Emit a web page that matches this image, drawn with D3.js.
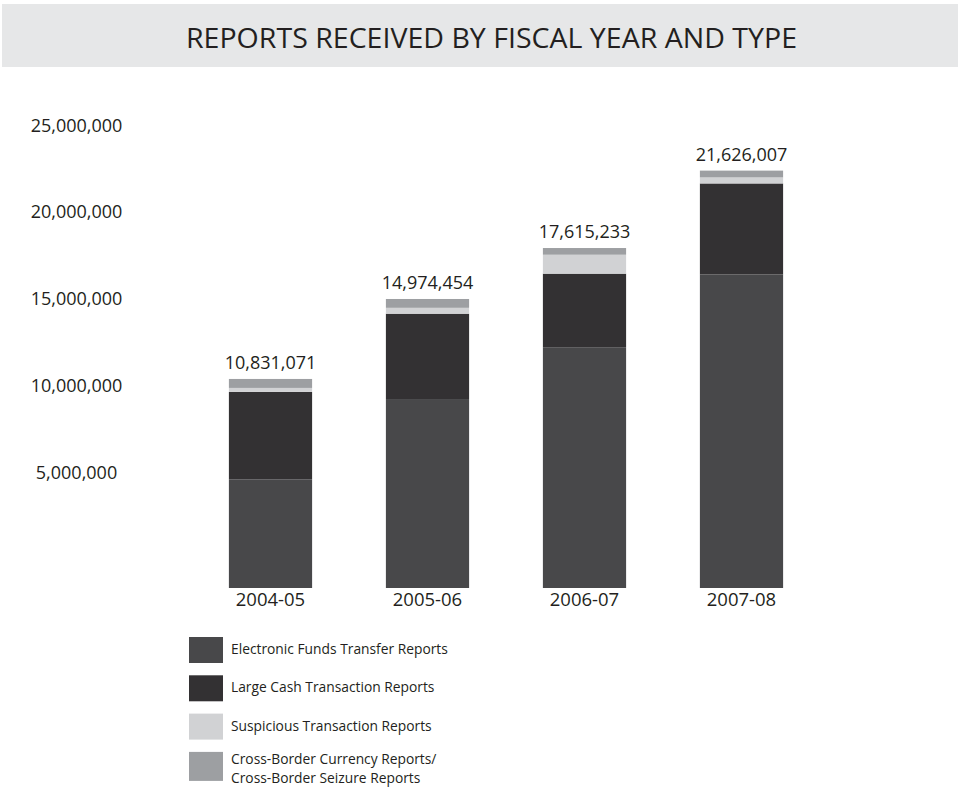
<!DOCTYPE html>
<html>
<head>
<meta charset="utf-8">
<script src="https://cdn.jsdelivr.net/npm/d3@7"></script>
<style>
  body { margin: 0; background: #fff; }
  text { font-family: "Open Sans", "DejaVu Sans", sans-serif; fill: #231f20; }
</style>
</head>
<body>
<div id="chart"></div>
<script>
// --- data ---
const years = ["2004-05", "2005-06", "2006-07", "2007-08"];
const totals = [10831071, 14974454, 17615233, 21626007];
const eftr = [5630000, 9791000, 12476000, 16245000];
const lctr = [4530000, 4421000, 3810000, 4716000];
const str = [207000, 305000, 982000, 314000];
const cbcr = [464071, 457454, 347233, 351007];
const seriesNames = [
  "Electronic Funds Transfer Reports",
  "Large Cash Transaction Reports",
  "Suspicious Transaction Reports",
  "Cross-Border Currency Reports/\nCross-Border Seizure Reports"
];
const axisTicks = [5000000, 10000000, 15000000, 20000000, 25000000];

const keys = ["eftr", "lctr", "str", "cbcr"];
const colors = ["#48484a", "#333133", "#d1d2d4", "#9d9fa2"];

const table = years.map((yr, i) => ({
  year: yr, total: totals[i],
  eftr: eftr[i], lctr: lctr[i], str: str[i], cbcr: cbcr[i]
}));

const width = 958, height = 789;

const svg = d3.select("#chart").append("svg")
  .attr("width", width)
  .attr("height", height);

// === title banner ===
svg.append("rect")
  .attr("x", 2).attr("y", 4)
  .attr("width", width - 2).attr("height", 63)
  .attr("fill", "#e6e7e8");

svg.append("text")
  .attr("x", 491.5).attr("y", 48)
  .attr("text-anchor", "middle")
  .attr("font-size", 28)
  .attr("textLength", 611)
  .attr("lengthAdjust", "spacingAndGlyphs")
  .text("REPORTS RECEIVED BY FISCAL YEAR AND TYPE");

// === scales ===
const x = d3.scaleBand()
  .domain(years)
  .range([192, 820])
  .paddingInner(0.47)
  .paddingOuter(0.235);

const y = d3.scaleLinear()
  .domain([0, 25000000])
  .range([588, 105.5]);

// the value labels on the left sit on their own spacing in the original
const yLabel = d3.scaleLinear()
  .domain([5000000, 25000000])
  .range([478, 131]);

const fmt = d3.format(",");

// === left labels (no line, no ticks) ===
const axis = svg.append("g")
  .attr("transform", "translate(76.5,0)")
  .call(d3.axisLeft(yLabel).tickValues(axisTicks).tickSize(0).tickPadding(0).tickFormat(fmt));
axis.select(".domain").remove();
axis.selectAll("text")
  .attr("x", 0)
  .attr("dy", 0)
  .attr("text-anchor", "middle")
  .attr("font-size", 18)
  .attr("font-family", "\"Open Sans\", sans-serif")
  .attr("fill", "#231f20");

// === stacked bars ===
const stack = d3.stack().keys(keys)(table);

svg.append("g")
  .selectAll("g")
  .data(stack)
  .join("g")
  .attr("fill", (d, i) => colors[i])
  .selectAll("rect")
  .data(d => d)
  .join("rect")
  .attr("x", d => x(d.data.year))
  .attr("width", x.bandwidth())
  .attr("y", d => y(d[1]))
  .attr("height", d => y(d[0]) - y(d[1]));

// totals above bars
svg.append("g")
  .selectAll("text")
  .data(table)
  .join("text")
  .attr("x", d => x(d.year) + x.bandwidth() / 2)
  .attr("y", d => y(d.total) - 10)
  .attr("text-anchor", "middle")
  .attr("font-size", 18)
  .text(d => fmt(d.total));

// year labels
svg.append("g")
  .selectAll("text")
  .data(table)
  .join("text")
  .attr("x", d => x(d.year) + x.bandwidth() / 2)
  .attr("y", y(0) + 18)
  .attr("text-anchor", "middle")
  .attr("font-size", 18.5)
  .text(d => d.year);

// === legend ===
const legend = svg.append("g")
  .selectAll("g")
  .data(seriesNames)
  .join("g")
  .attr("transform", (d, i) => `translate(189,${637 + i * 38.3})`);

legend.append("rect")
  .attr("width", 34)
  .attr("height", (d, i) => i === 3 ? 29 : 26)
  .attr("fill", (d, i) => colors[i]);

legend.append("text")
  .attr("x", 42)
  .attr("font-size", 13.8)
  .selectAll("tspan")
  .data(d => d.split("\n"))
  .join("tspan")
  .attr("x", 42)
  .attr("y", (d, i, nodes) => nodes.length > 1 ? 12 + i * 19 : 17)
  .text(d => d);
</script>
</body>
</html>
